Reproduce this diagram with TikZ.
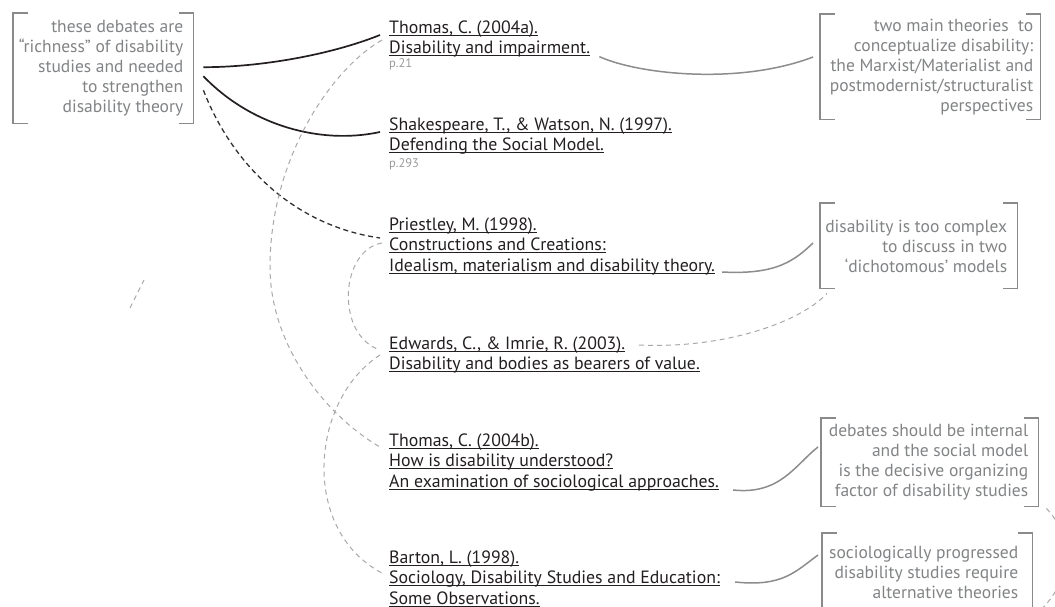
\documentclass[tikz,border=0pt]{standalone}
\usepackage{fontspec}
\setmainfont{PT Sans}

\definecolor{refink}{HTML}{231F20}
\definecolor{notegray}{HTML}{818385}
\definecolor{pagegray}{HTML}{9A9A9A}
\definecolor{brkgray}{HTML}{8A8A8A}
\definecolor{linkgray}{HTML}{8C8C8C}
\definecolor{dashgray}{HTML}{A8A8A8}
\definecolor{darkdash}{HTML}{303030}

% underlined reference line: a rule as wide as the text, just under the baseline
\newsavebox\reflinebox
\newcommand\refu[1]{\sbox\reflinebox{#1}\rlap{\rule[-2.6pt]{\wd\reflinebox}{0.9pt}}\usebox\reflinebox}

% left and right square brackets around a note box
\newcommand\drawbrackets[1]{%
  \draw[brk] ([xshift=15pt]#1.north west) -- (#1.north west) -- (#1.south west) -- ([xshift=15pt]#1.south west);
  \draw[brk] ([xshift=-14pt]#1.north east) -- (#1.north east) -- (#1.south east) -- ([xshift=-14pt]#1.south east);
}

\tikzset{
  refnode/.style={anchor=north west, inner sep=0pt, yshift=14.35pt, align=left,
    text=refink, font=\fontsize{17.8}{20.5}\selectfont},
  note/.style={anchor=north east, inner sep=0pt, yshift=14.14pt, align=right,
    text=notegray, font=\fontsize{17.5}{20.2}\selectfont},
  pagenum/.style={anchor=north west, inner sep=0pt, yshift=9.1pt,
    text=pagegray, font=\fontsize{12.5}{13}\selectfont},
  bracketbox/.style={anchor=north west, inner sep=0pt, draw=none},
  brk/.style={draw=brkgray, line width=1.5pt},
  strong/.style={draw=refink, line width=1.7pt},
  strongdash/.style={draw=darkdash, line width=1.3pt, dash pattern=on 5pt off 3.5pt},
  soft/.style={draw=linkgray, line width=1.5pt},
  softdash/.style={draw=dashgray, line width=1pt, dash pattern=on 5pt off 4pt},
}

\begin{document}
\begin{tikzpicture}[x=1pt,y=-1pt]
\path[use as bounding box] (0,0) rectangle (1055,607);
\clip (0,0) rectangle (1055,607);

% bracketed notes
\node[bracketbox, minimum width=180pt, minimum height=110pt] (LB) at (13,13) {};
\node[bracketbox, minimum width=220pt, minimum height=105pt] (A) at (820,14) {};
\node[bracketbox, minimum width=197pt, minimum height=85pt] (B) at (820,203) {};
\node[bracketbox, minimum width=217pt, minimum height=88pt] (C) at (821,418) {};
\node[bracketbox, minimum width=210pt, minimum height=90pt] (D) at (822,533) {};
\drawbrackets{LB}
\drawbrackets{A}
\drawbrackets{B}
\drawbrackets{C}
\drawbrackets{D}

\node[note] (LBt) at ([shift={(-10,19)}]LB.north east)
  {\strut these debates are\\“richness” of disability\\studies and needed\\to strengthen\\disability theory};
\node[note] (At) at ([shift={(-7,17)}]A.north east)
  {\strut two main theories\ \ to\\conceptualize disability:\\the Marxist/Materialist and\\postmodernist/structuralist\\perspectives};
\node[note] (Bt) at ([shift={(-10,29)}]B.north east)
  {\strut disability is too complex\\to discuss in two\\‘dichotomous’ models\hspace{3pt}};
\node[note] (Ct) at ([shift={(-10,18)}]C.north east)
  {\strut debates should be internal\\and the social model\hspace{3pt}\\is the decisive organizing\\factor of disability studies};
\node[note] (Dt) at ([shift={(-14,25)}]D.north east)
  {\strut sociologically progressed\\disability studies require\\alternative theories};

% references
\node[refnode] (ta) at (389,33)
  {\strut\refu{Thomas, C. (2004a).}\\\refu{Disability and impairment.}};
\node[pagenum] (ta-p) at (389,67.5) {\strut p.21};
\node[refnode] (sw) at (389,130)
  {\strut\refu{Shakespeare, T., \& Watson, N. (1997).}\\\refu{Defending the Social Model.}};
\node[pagenum] (sw-p) at (389,167.5) {\strut p.293};
\node[refnode] (pr) at (389,230)
  {\strut\refu{Priestley, M. (1998).}\\\refu{Constructions and Creations:}\\\refu{Idealism, materialism and disability theory.}};
\node[refnode] (ed) at (389,349)
  {\strut\refu{Edwards, C., \& Imrie, R. (2003).}\\\refu{Disability and bodies as bearers of value.}};
\node[refnode] (tb) at (389,446)
  {\strut\refu{Thomas, C. (2004b).}\\\refu{How is disability understood?}\\\refu{An examination of sociological approaches.}};
\node[refnode] (ba) at (389,563)
  {\strut\refu{Barton, L. (1998).}\\\refu{Sociology, Disability Studies and Education:}\\\refu{Some Observations.}};

% links from the left note
\draw[strong] ([shift={(10,-1)}]LB.east) .. controls +(57,0) and +(-50,20) .. ([shift={(-9,16.35)}]ta.north west);
\draw[strong] ([shift={(10,8)}]LB.east) .. controls +(47,49) and +(-60,13) .. ([shift={(-9,16.35)}]sw.north west);
\draw[strongdash] ([shift={(10,22)}]LB.east) .. controls +(27,70) and +(-90,-13) .. ([shift={(-9,22.35)}]pr.north west);

% dashed links between references
\draw[softdash] ([shift={(-7,21.35)}]ta.north west) .. controls +(-52,30) and +(0,-107) .. (270,267)
  .. controls +(0,78) and +(-55,-32) .. ([shift={(-9,15.35)}]tb.north west);
\draw[softdash] ([shift={(-7,27.35)}]pr.north west) .. controls +(-42,7) and +(-45,-15) .. ([shift={(-9,15.35)}]ed.north west);
\draw[softdash] ([shift={(-9,20.35)}]ed.north west) .. controls +(-70,45) and +(-82,-43) .. ([shift={(-7,24.35)}]ba.north west);

% links from references to notes
\draw[soft] ([shift={(9,38)}]ta.north east) .. controls +(40,18) and +(-73,28) .. ([shift={(-7,43)}]A.north west);
\draw[soft] ([shift={(7,56.35)}]pr.north east) .. controls +(55,3) and +(-18,17) .. ([shift={(-7,40)}]B.north west);
\draw[softdash] ([shift={(250,10.35)}]ed.north west) .. controls +(85,4) and +(-27,29) .. ([shift={(7,5)}]B.south west);
\draw[soft] ([shift={(14,58.35)}]tb.north east) .. controls +(47,5) and +(-23,18) .. ([shift={(-3,29)}]C.north west);
\draw[soft] ([shift={(15,33.35)}]ba.north east) .. controls +(47,5) and +(-23,17) .. ([shift={(-4,22)}]D.north west);
\draw[softdash] ([shift={(8,2)}]C.south east) .. controls +(26,27) and +(40,-35) .. ([shift={(3,82)}]D.north east);

% loose dashed stroke
\draw[softdash] (130,308) -- (144,280);
\end{tikzpicture}
\end{document}
